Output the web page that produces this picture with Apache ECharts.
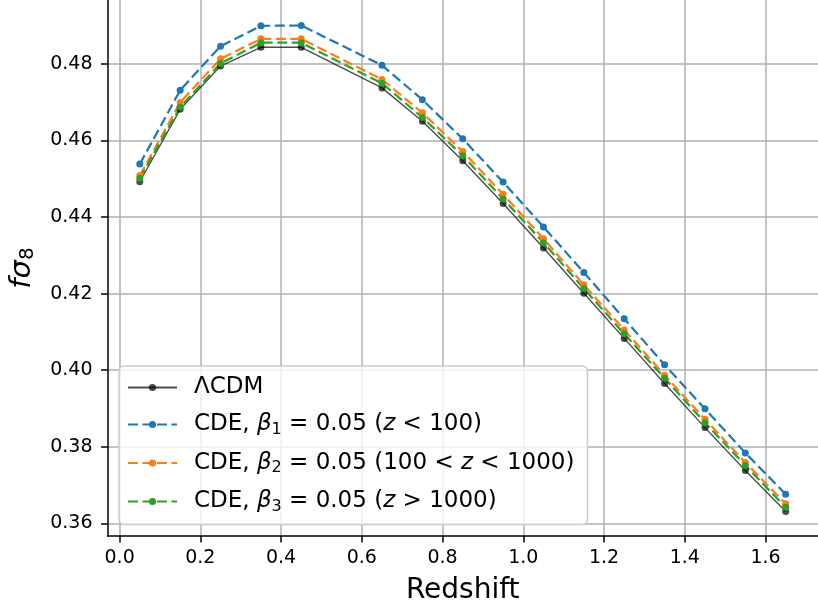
<!DOCTYPE html>
<html>
<head>
<meta charset="utf-8">
<script src="https://cdn.jsdelivr.net/npm/echarts@6/dist/echarts.min.js"></script>
<style>
  html, body { margin: 0; padding: 0; background: #ffffff; }
  #chart { width: 818px; height: 610px; }
</style>
</head>
<body>
<div id="chart"></div>
<script>
// Redshift bins
const redshift = [0.05, 0.15, 0.25, 0.35, 0.45, 0.65, 0.75, 0.85, 0.95, 1.05, 1.15, 1.25, 1.35, 1.45, 1.55, 1.65];

// f*sigma_8 predictions
const lcdm = [0.4492, 0.4681, 0.4794, 0.4843, 0.4843, 0.4737, 0.4650, 0.4547, 0.4435, 0.4319, 0.4201, 0.4083, 0.3965, 0.3850, 0.3738, 0.3631];
const cdeLate = [0.4538, 0.4731, 0.4846, 0.4899, 0.4900, 0.4796, 0.4706, 0.4604, 0.4491, 0.4374, 0.4255, 0.4134, 0.4014, 0.3899, 0.3784, 0.3676];
const cdeMid = [0.4508, 0.4699, 0.4813, 0.4865, 0.4865, 0.4759, 0.4672, 0.4571, 0.4459, 0.4343, 0.4223, 0.4105, 0.3987, 0.3872, 0.3759, 0.3651];
const cdeEarly = [0.4501, 0.4687, 0.4801, 0.4855, 0.4855, 0.4749, 0.4660, 0.4560, 0.4447, 0.4333, 0.4213, 0.4095, 0.3979, 0.3863, 0.3751, 0.3642];

// Axis tick values
const xTicks = [0.0, 0.2, 0.4, 0.6, 0.8, 1.0, 1.2, 1.4, 1.6];
const yTicks = [0.36, 0.38, 0.40, 0.42, 0.44, 0.46, 0.48];

const FONT = 'DejaVu Sans';
const pairs = vals => redshift.map((z, i) => [z, vals[i]]);
const isTick = (list, v) => list.some(t => Math.abs(t - v) < 1e-6);

const legendText = {
  lcdm: '{r|ΛCDM}',
  late: '{r|CDE, }{i|β}{s|1}{r| = 0.05 (}{i|z}{r| < 100)}',
  mid: '{r|CDE, }{i|β}{s|2}{r| = 0.05 (100 < }{i|z}{r| < 1000)}',
  early: '{r|CDE, }{i|β}{s|3}{r| = 0.05 (}{i|z}{r| > 1000)}'
};

const dash = [10, 4.5];
function dashedSeries(id, vals, color) {
  return {
    name: id,
    type: 'line',
    data: pairs(vals),
    symbol: 'circle',
    symbolSize: 7,
    lineStyle: { color: color, width: 2.2, type: dash },
    itemStyle: { color: color },
    emphasis: { disabled: true }
  };
}

const chart = echarts.init(document.getElementById('chart'), null, { renderer: 'canvas' });
chart.setOption({
  animation: false,
  backgroundColor: '#ffffff',
  grid: { left: 106, top: -2, width: 721, height: 538, containLabel: false },
  xAxis: {
    type: 'value',
    min: -0.03,
    max: 1.73,
    splitNumber: 9,
    name: 'Redshift',
    nameLocation: 'middle',
    nameGap: 41,
    nameTextStyle: { fontFamily: FONT, fontSize: 28, color: '#000' },
    axisLine: { show: true, onZero: false, lineStyle: { color: '#000', width: 1.5 } },
    axisTick: { show: true, length: 6.5, customValues: xTicks, lineStyle: { color: '#000', width: 1.5 } },
    axisLabel: {
      customValues: xTicks,
      margin: 13,
      fontFamily: FONT, fontSize: 19, color: '#000',
      formatter: v => isTick(xTicks, v) ? v.toFixed(1) : ''
    },
    splitLine: { show: true, lineStyle: { color: '#b0b0b0', width: 1.5 } }
  },
  yAxis: {
    type: 'value',
    min: 0.3567,
    max: 0.49665,
    splitNumber: 7,
    name: '{i|fσ}{s|8}',
    nameLocation: 'middle',
    nameRotate: 90,
    nameGap: 70,
    nameTextStyle: {
      fontFamily: FONT, color: '#000',
      rich: {
        i: { fontFamily: FONT, fontStyle: 'italic', fontSize: 29, lineHeight: 30 },
        s: { fontFamily: FONT, fontSize: 20, lineHeight: 16, verticalAlign: 'bottom' }
      }
    },
    axisLine: { show: true, onZero: false, lineStyle: { color: '#000', width: 1.5 } },
    axisTick: { show: true, length: 6.5, customValues: yTicks, lineStyle: { color: '#000', width: 1.5 } },
    axisLabel: {
      customValues: yTicks,
      margin: 15,
      fontFamily: FONT, fontSize: 19, color: '#000',
      formatter: v => isTick(yTicks, v) ? v.toFixed(2) : ''
    },
    splitLine: { show: true, lineStyle: { color: '#b0b0b0', width: 1.5 } }
  },
  legend: {
    orient: 'vertical',
    left: 119,
    top: 366,
    padding: [10, 13, 10, 8],
    itemGap: 14,
    itemWidth: 49,
    itemHeight: 9,
    backgroundColor: 'rgba(255,255,255,0.8)',
    borderColor: '#cccccc',
    borderWidth: 1.5,
    borderRadius: 5,
    data: ['lcdm', 'late', 'mid', 'early'],
    formatter: name => legendText[name],
    textStyle: {
      fontFamily: FONT, fontSize: 23, color: '#000',
      padding: [0, 0, 0, 12],
      rich: {
        r: { fontFamily: FONT, fontSize: 23, lineHeight: 26, color: '#000' },
        i: { fontFamily: FONT, fontStyle: 'italic', fontSize: 23, lineHeight: 26, color: '#000' },
        s: { fontFamily: FONT, fontSize: 16, lineHeight: 12, verticalAlign: 'bottom', color: '#000' }
      }
    }
  },
  series: [
    {
      name: 'lcdm',
      type: 'line',
      data: pairs(lcdm),
      symbol: 'circle',
      symbolSize: 7,
      lineStyle: { color: 'rgba(0,0,0,0.7)', width: 1.4, type: 'solid' },
      itemStyle: { color: 'rgba(0,0,0,0.7)' },
      emphasis: { disabled: true }
    },
    dashedSeries('late', cdeLate, '#1f77b4'),
    dashedSeries('mid', cdeMid, '#ff7f0e'),
    dashedSeries('early', cdeEarly, '#2ca02c')
  ]
});
</script>
</body>
</html>
